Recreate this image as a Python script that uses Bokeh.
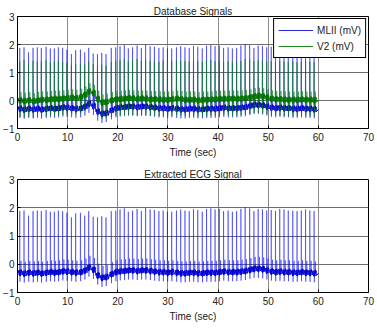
import numpy as np
from bokeh.plotting import figure
from bokeh.layouts import column
from bokeh.models import Legend, LegendItem, Range1d, FixedTicker
from bokeh.embed import file_html
from bokeh.resources import INLINE

# ---------------- data ----------------
beat_t = [0.45, 1.30, 2.20, 3.10, 3.95, 4.75, 5.70, 6.55, 7.35, 8.15,
          9.00, 9.85, 10.75, 11.60, 12.55, 13.40, 14.20, 15.10, 15.95, 16.80,
          17.65, 18.70, 19.60, 20.45, 21.30, 22.10, 22.95, 23.85, 24.70, 25.55,
          26.45, 27.30, 28.20, 29.05, 29.90, 30.75, 31.70, 32.55, 33.40, 34.25,
          35.10, 35.95, 36.85, 37.70, 38.55, 39.40, 40.25, 41.10, 42.00, 42.85,
          43.70, 44.55, 45.40, 46.30, 47.15, 48.00, 48.85, 49.70, 50.60, 51.45,
          52.30, 53.15, 54.00, 54.90, 55.75, 56.60, 57.45, 58.30, 59.15]
mlii_r = [1.88, 1.90, 1.72, 1.88, 1.90, 1.88, 1.92, 1.86, 1.86, 1.90,
          1.88, 1.82, 1.66, 1.80, 1.82, 1.72, 1.88, 1.68, 1.66, 1.70,
          1.66, 1.88, 1.90, 1.94, 1.98, 1.86, 1.90, 1.96, 1.88, 2.00,
          1.94, 1.92, 1.88, 1.90, 1.86, 1.86, 1.90, 1.94, 1.90, 1.88,
          1.95, 1.92, 1.86, 1.96, 1.98, 1.94, 1.96, 1.88, 1.90, 1.86,
          1.88, 1.96, 2.02, 1.98, 1.88, 1.96, 1.94, 1.90, 1.92, 1.88,
          1.96, 1.94, 1.90, 1.90, 1.88, 1.90, 1.94, 1.90, 1.88]
mlii_base = [-0.30, -0.33, -0.30, -0.32, -0.30, -0.33, -0.30, -0.28, -0.30, -0.28,
             -0.25, -0.26, -0.28, -0.30, -0.28, -0.22, -0.12, -0.20, -0.40, -0.48,
             -0.45, -0.35, -0.28, -0.25, -0.24, -0.22, -0.22, -0.24, -0.22, -0.22,
             -0.24, -0.26, -0.28, -0.28, -0.30, -0.28, -0.30, -0.32, -0.32, -0.30,
             -0.30, -0.32, -0.32, -0.30, -0.30, -0.30, -0.28, -0.26, -0.28, -0.28,
             -0.28, -0.26, -0.24, -0.20, -0.16, -0.16, -0.18, -0.22, -0.26, -0.28,
             -0.26, -0.28, -0.28, -0.30, -0.30, -0.28, -0.30, -0.30, -0.32]
v2_r = [1.40, 1.45, 1.30, 1.42, 1.38, 1.40, 1.44, 1.36, 1.40, 1.42,
        1.38, 1.35, 1.25, 1.30, 1.32, 1.28, 1.40, 1.30, 1.25, 1.28,
        1.25, 1.38, 1.42, 1.45, 1.48, 1.40, 1.44, 1.48, 1.42, 1.45,
        1.42, 1.40, 1.38, 1.42, 1.36, 1.40, 1.44, 1.42, 1.40, 1.38,
        1.44, 1.40, 1.38, 1.42, 1.45, 1.40, 1.42, 1.36, 1.40, 1.38,
        1.40, 1.42, 1.48, 1.45, 1.40, 1.44, 1.42, 1.38, 1.40, 1.36,
        1.42, 1.40, 1.38, 1.40, 1.36, 1.38, 1.42, 1.38, 1.36]
v2_base = [0.00, -0.02, 0.00, -0.03, 0.00, 0.02, 0.02, 0.04, 0.05, 0.05,
           0.06, 0.08, 0.10, 0.08, 0.12, 0.20, 0.32, 0.26, 0.05, -0.08,
           -0.05, 0.00, 0.04, 0.05, 0.06, 0.08, 0.06, 0.05, 0.06, 0.05,
           0.04, 0.04, 0.03, 0.02, 0.02, 0.04, 0.06, 0.04, 0.02, 0.02,
           0.02, 0.00, 0.02, 0.02, 0.03, 0.04, 0.05, 0.05, 0.06, 0.06,
           0.05, 0.06, 0.08, 0.10, 0.14, 0.16, 0.14, 0.10, 0.06, 0.04,
           0.04, 0.03, 0.02, 0.02, 0.02, 0.03, 0.02, 0.02, 0.02]
series_names = ["MLII (mV)", "V2 (mV)"]
x_ticks = [0, 10, 20, 30, 40, 50, 60, 70]
y_ticks = [-1, 0, 1, 2, 3]
end_t = 60.0

# ---------------- beat shape (style) ----------------
# (time offset, kind, relative level)
SHAPE = [(-0.28, 'b', 0.00), (-0.20, 'b', 0.08), (-0.12, 'b', -0.07),
         (-0.04, 'b', -0.10), (0.00, 'R', 0.0), (0.04, 'S', 0.0),
         (0.09, 'b', 0.03), (0.17, 'b', -0.09), (0.25, 'T', 0.0),
         (0.31, 'b', 0.02), (0.38, 'b', 0.09), (0.45, 'b', -0.08)]


def build(base, peaks, s_drop, t_rise, band=False):
    xs, ys = [0.0], [base[0]]
    for t, b, r in zip(beat_t, base, peaks):
        for dt, kind, rel in SHAPE:
            if kind == 'b':
                v = b + rel
            elif kind == 'R':
                v = b + 0.10 if band else r
            elif kind == 'S':
                v = b - 0.12 if band else b - s_drop
            else:
                v = b + 0.12 if band else b + t_rise
            xs.append(t + dt)
            ys.append(v)
    xs.append(end_t)
    ys.append(base[-1])
    return xs, ys


ml_x, ml_y = build(mlii_base, mlii_r, 0.32, 0.42)
ml_bx, ml_by = build(mlii_base, mlii_r, 0.32, 0.42, band=True)
v2_x, v2_y = build(v2_base, v2_r, 0.58, 0.30)
v2_bx, v2_by = build(v2_base, v2_r, 0.58, 0.30, band=True)

FONT = "Liberation Sans"
BLUE = "#0000ff"
BLUE_D = "#0000d0"
GREEN = "#008000"
GREEN_D = "#007400"


def make_fig(title, top, bottom):
    p = figure(width=377, height=165, output_backend="svg", toolbar_location=None,
               x_range=Range1d(0, 70), y_range=Range1d(-1, 3),
               min_border_left=16, min_border_right=9,
               min_border_top=top, min_border_bottom=bottom)
    p.title.text = title
    p.title.align = "center"
    p.title.text_font = FONT
    p.title.text_font_size = "10px"
    p.title.text_font_style = "normal"
    p.title.text_color = "#222222"
    p.title.standoff = 0
    p.title.offset = 0
    p.xaxis.ticker = FixedTicker(ticks=x_ticks)
    p.yaxis.ticker = FixedTicker(ticks=y_ticks)
    for ax in (p.xaxis[0], p.yaxis[0]):
        ax.major_tick_in = 3
        ax.major_tick_out = 0
        ax.minor_tick_line_color = None
        ax.axis_line_color = "black"
        ax.major_label_text_font = FONT
        ax.major_label_text_font_size = "10px"
        ax.major_label_text_color = "#222222"
    p.xaxis.major_label_standoff = 4
    p.yaxis.major_label_standoff = 3
    p.xaxis.axis_label = "Time (sec)"
    p.xaxis.axis_label_text_font = FONT
    p.xaxis.axis_label_text_font_size = "10px"
    p.xaxis.axis_label_text_font_style = "normal"
    p.xaxis.axis_label_text_color = "#222222"
    p.xaxis.axis_label_standoff = 3
    p.outline_line_color = "black"
    p.outline_line_alpha = 1.0
    p.xgrid.grid_line_color = "#8c8c8c"
    p.ygrid.grid_line_color = "#6e6e6e"
    p.xgrid.ticker = FixedTicker(ticks=x_ticks)
    p.ygrid.ticker = FixedTicker(ticks=y_ticks)
    return p


p1 = make_fig("Database Signals", 16, 37)
p1.line(ml_x, ml_y, line_color=BLUE, line_alpha=0.45, line_width=1)
r_mlb = p1.line(ml_bx, ml_by, line_color=BLUE_D, line_alpha=0.85, line_width=1)
p1.line(v2_x, v2_y, line_color=GREEN, line_alpha=0.5, line_width=1)
r_v2b = p1.line(v2_bx, v2_by, line_color=GREEN_D, line_alpha=0.85, line_width=1)

legend = Legend(items=[LegendItem(label=series_names[0], renderers=[r_mlb]),
                       LegendItem(label=series_names[1], renderers=[r_v2b])],
                location="top_right", margin=2, padding=4, spacing=2,
                glyph_width=35, glyph_height=14, label_standoff=4,
                label_text_font=FONT, label_text_font_size="10px",
                label_text_color="#222222",
                border_line_color="black", border_line_alpha=1.0,
                background_fill_alpha=1.0)
p1.add_layout(legend)

p2 = make_fig("Extracted ECG Signal", 14, 38)
p2.line(ml_x, ml_y, line_color=BLUE, line_alpha=0.45, line_width=1)
p2.line(ml_bx, ml_by, line_color=BLUE_D, line_alpha=0.85, line_width=1)

layout = column(p1, p2, spacing=0)
open("out.html", "w").write(file_html(layout, INLINE))
